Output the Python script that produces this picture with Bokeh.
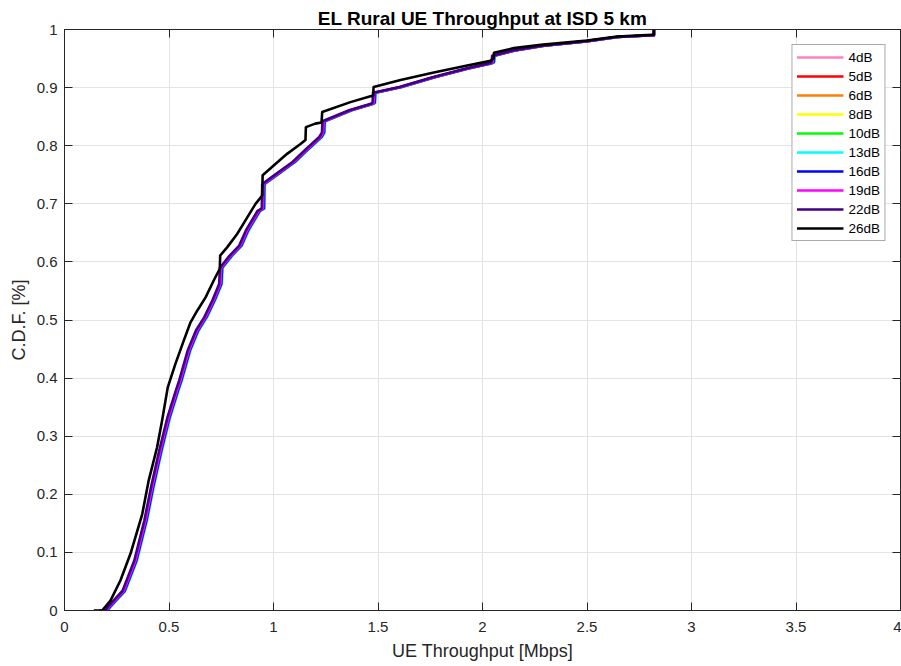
from bokeh.plotting import figure
from bokeh.models import (FixedTicker, NumeralTickFormatter, LinearAxis, Legend,
                          LegendItem, Range1d, ColumnDataSource)
from bokeh.embed import file_html
from bokeh.resources import INLINE

# ---------------- data ----------------
series_names = ["4dB", "5dB", "6dB", "8dB", "10dB", "13dB", "16dB", "19dB", "22dB", "26dB"]
series_colors = ["#ff80c0", "#ff0000", "#ff8000", "#ffff00", "#00ff00",
                 "#00ffff", "#0000ff", "#ff00ff", "#400080", "#000000"]

x_ticks = [0, 0.5, 1, 1.5, 2, 2.5, 3, 3.5, 4]
y_ticks = [0, 0.1, 0.2, 0.3, 0.4, 0.5, 0.6, 0.7, 0.8, 0.9, 1.0]

# CDF levels shared by the 4..22 dB curves
cdf_col = [0, 0, 0.009, 0.034, 0.086, 0.155, 0.212, 0.275, 0.333, 0.379,
           0.396, 0.447, 0.482, 0.505, 0.534, 0.562, 0.590, 0.610, 0.628, 0.654,
           0.688, 0.692, 0.734, 0.751, 0.772, 0.794, 0.815, 0.823, 0.842, 0.861,
           0.872, 0.874, 0.891, 0.901, 0.918, 0.933, 0.942, 0.944, 0.955, 0.964,
           0.972, 0.980, 0.987, 0.990, 0.990, 1.0]

# throughput [Mbps] of 4, 5, 6, 8, 10, 16 dB (indistinguishable)
thr_grp = [0.176, 0.204, 0.224, 0.288, 0.344, 0.392, 0.424, 0.463, 0.503, 0.543,
           0.559, 0.599, 0.639, 0.679, 0.718, 0.750, 0.754, 0.798, 0.846, 0.878,
           0.934, 0.954, 0.956, 1.021, 1.101, 1.165, 1.229, 1.242, 1.244, 1.372,
           1.476, 1.484, 1.486, 1.612, 1.770, 1.931, 2.044, 2.054, 2.056, 2.154,
           2.294, 2.504, 2.648, 2.814, 2.820, 2.820]
thr_13 = [0.179, 0.207, 0.227, 0.291, 0.347, 0.395, 0.427, 0.466, 0.506, 0.546,
          0.562, 0.602, 0.642, 0.682, 0.721, 0.753, 0.757, 0.801, 0.849, 0.881,
          0.937, 0.957, 0.959, 1.024, 1.104, 1.168, 1.232, 1.245, 1.247, 1.375,
          1.479, 1.487, 1.489, 1.615, 1.773, 1.934, 2.047, 2.057, 2.059, 2.157,
          2.297, 2.507, 2.651, 2.817, 2.820, 2.820]
thr_19 = [0.172, 0.200, 0.220, 0.284, 0.340, 0.388, 0.420, 0.459, 0.499, 0.539,
          0.555, 0.595, 0.635, 0.675, 0.714, 0.746, 0.750, 0.794, 0.842, 0.874,
          0.930, 0.950, 0.952, 1.017, 1.097, 1.161, 1.225, 1.238, 1.240, 1.368,
          1.472, 1.480, 1.482, 1.608, 1.766, 1.927, 2.040, 2.050, 2.052, 2.150,
          2.290, 2.500, 2.644, 2.810, 2.820, 2.820]
thr_22 = [0.166, 0.194, 0.214, 0.278, 0.334, 0.382, 0.414, 0.453, 0.493, 0.533,
          0.549, 0.589, 0.629, 0.669, 0.708, 0.740, 0.744, 0.788, 0.836, 0.868,
          0.924, 0.944, 0.946, 1.011, 1.091, 1.155, 1.219, 1.232, 1.234, 1.362,
          1.466, 1.474, 1.476, 1.602, 1.760, 1.921, 2.034, 2.044, 2.046, 2.144,
          2.284, 2.494, 2.638, 2.804, 2.820, 2.820]

# 26 dB curve
thr_26 = [0.140, 0.180, 0.220, 0.268, 0.316, 0.372, 0.403, 0.443, 0.467, 0.494,
          0.531, 0.571, 0.603, 0.635, 0.675, 0.714, 0.743, 0.745, 0.778, 0.826,
          0.860, 0.914, 0.946, 0.948, 1.001, 1.065, 1.129, 1.153, 1.155, 1.200,
          1.230, 1.233, 1.368, 1.464, 1.477, 1.479, 1.608, 1.767, 1.927, 2.038,
          2.053, 2.055, 2.150, 2.290, 2.500, 2.644, 2.810, 2.820, 2.820]
cdf_26 = [0, 0, 0.017, 0.052, 0.098, 0.166, 0.224, 0.281, 0.327, 0.384,
          0.425, 0.465, 0.496, 0.516, 0.539, 0.568, 0.588, 0.611, 0.625, 0.648,
          0.668, 0.700, 0.714, 0.749, 0.766, 0.786, 0.803, 0.810, 0.832, 0.838,
          0.840, 0.858, 0.875, 0.885, 0.886, 0.901, 0.913, 0.926, 0.938, 0.946,
          0.950, 0.960, 0.968, 0.974, 0.981, 0.988, 0.991, 0.991, 1.0]

series_x = [thr_grp, thr_grp, thr_grp, thr_grp, thr_grp, thr_13, thr_grp, thr_19, thr_22, thr_26]
series_y = [cdf_col] * 9 + [cdf_26]

# ---------------- figure ----------------
FONT = "Liberation Sans"
AX = "#262626"

p = figure(width=901, height=666, x_range=Range1d(0, 4), y_range=Range1d(0, 1),
           output_backend="svg", toolbar_location=None,
           min_border_left=64, min_border_right=1, min_border_top=29, min_border_bottom=56)

p.title.text = "EL Rural UE Throughput at ISD 5 km"
p.title.text_font = FONT
p.title.text_font_size = "19px"
p.title.text_font_style = "bold"
p.title.text_color = "#000000"
p.title.align = "center"
p.title.standoff = 2
p.title.offset = 0

p.outline_line_color = AX
p.outline_line_width = 1
p.background_fill_color = "white"
p.border_fill_color = "white"

xt = FixedTicker(ticks=x_ticks)
yt = FixedTicker(ticks=y_ticks)

for ax, t in ((p.xaxis[0], xt), (p.yaxis[0], yt)):
    ax.ticker = t
    ax.formatter = NumeralTickFormatter(format="0.[0]")
    ax.major_tick_in = 8
    ax.major_tick_out = 0
    ax.minor_tick_line_color = None
    ax.axis_line_color = AX
    ax.major_tick_line_color = AX
    ax.major_label_text_font = FONT
    ax.major_label_text_font_size = "15px"
    ax.major_label_text_color = AX
    ax.axis_label_text_font = FONT
    ax.axis_label_text_font_size = "18px"
    ax.axis_label_text_font_style = "normal"
    ax.axis_label_text_color = AX

p.xaxis[0].axis_label = "UE Throughput [Mbps]"
p.yaxis[0].axis_label = "C.D.F. [%]"
p.xaxis[0].major_label_standoff = 11
p.xaxis[0].axis_label_standoff = 6
p.yaxis[0].major_label_standoff = 7
p.yaxis[0].axis_label_standoff = 5

# box ticks on top / right: drawn as minor ticks only, so no labels are produced
for loc, ticks in (("above", x_ticks), ("right", y_ticks)):
    a = LinearAxis(ticker=FixedTicker(ticks=[], minor_ticks=ticks),
                   major_tick_line_color=None, major_label_text_font_size="0px",
                   major_label_standoff=0,
                   minor_tick_in=8, minor_tick_out=0, minor_tick_line_color=AX,
                   axis_line_color=AX)
    p.add_layout(a, loc)

p.xgrid.ticker = xt
p.ygrid.ticker = yt
p.xgrid.grid_line_color = "#e3e3e3"
p.ygrid.grid_line_color = "#e3e3e3"

items = []
for name, col, xs, ys in zip(series_names, series_colors, series_x, series_y):
    src = ColumnDataSource(dict(x=xs, y=ys))
    r = p.line("x", "y", source=src, line_color=col, line_width=2.6, line_join="round")
    items.append(LegendItem(label=name, renderers=[r]))

legend = Legend(items=items, location="top_right", margin=15,
                label_text_font=FONT, label_text_font_size="13.5px", label_text_color="#000000",
                glyph_width=47, glyph_height=16, label_height=16, spacing=3,
                padding=4, label_standoff=5,
                border_line_color="#555555", border_line_width=1,
                background_fill_color="white", background_fill_alpha=1.0)
p.add_layout(legend)

open("out.html", "w").write(file_html(p, INLINE))
